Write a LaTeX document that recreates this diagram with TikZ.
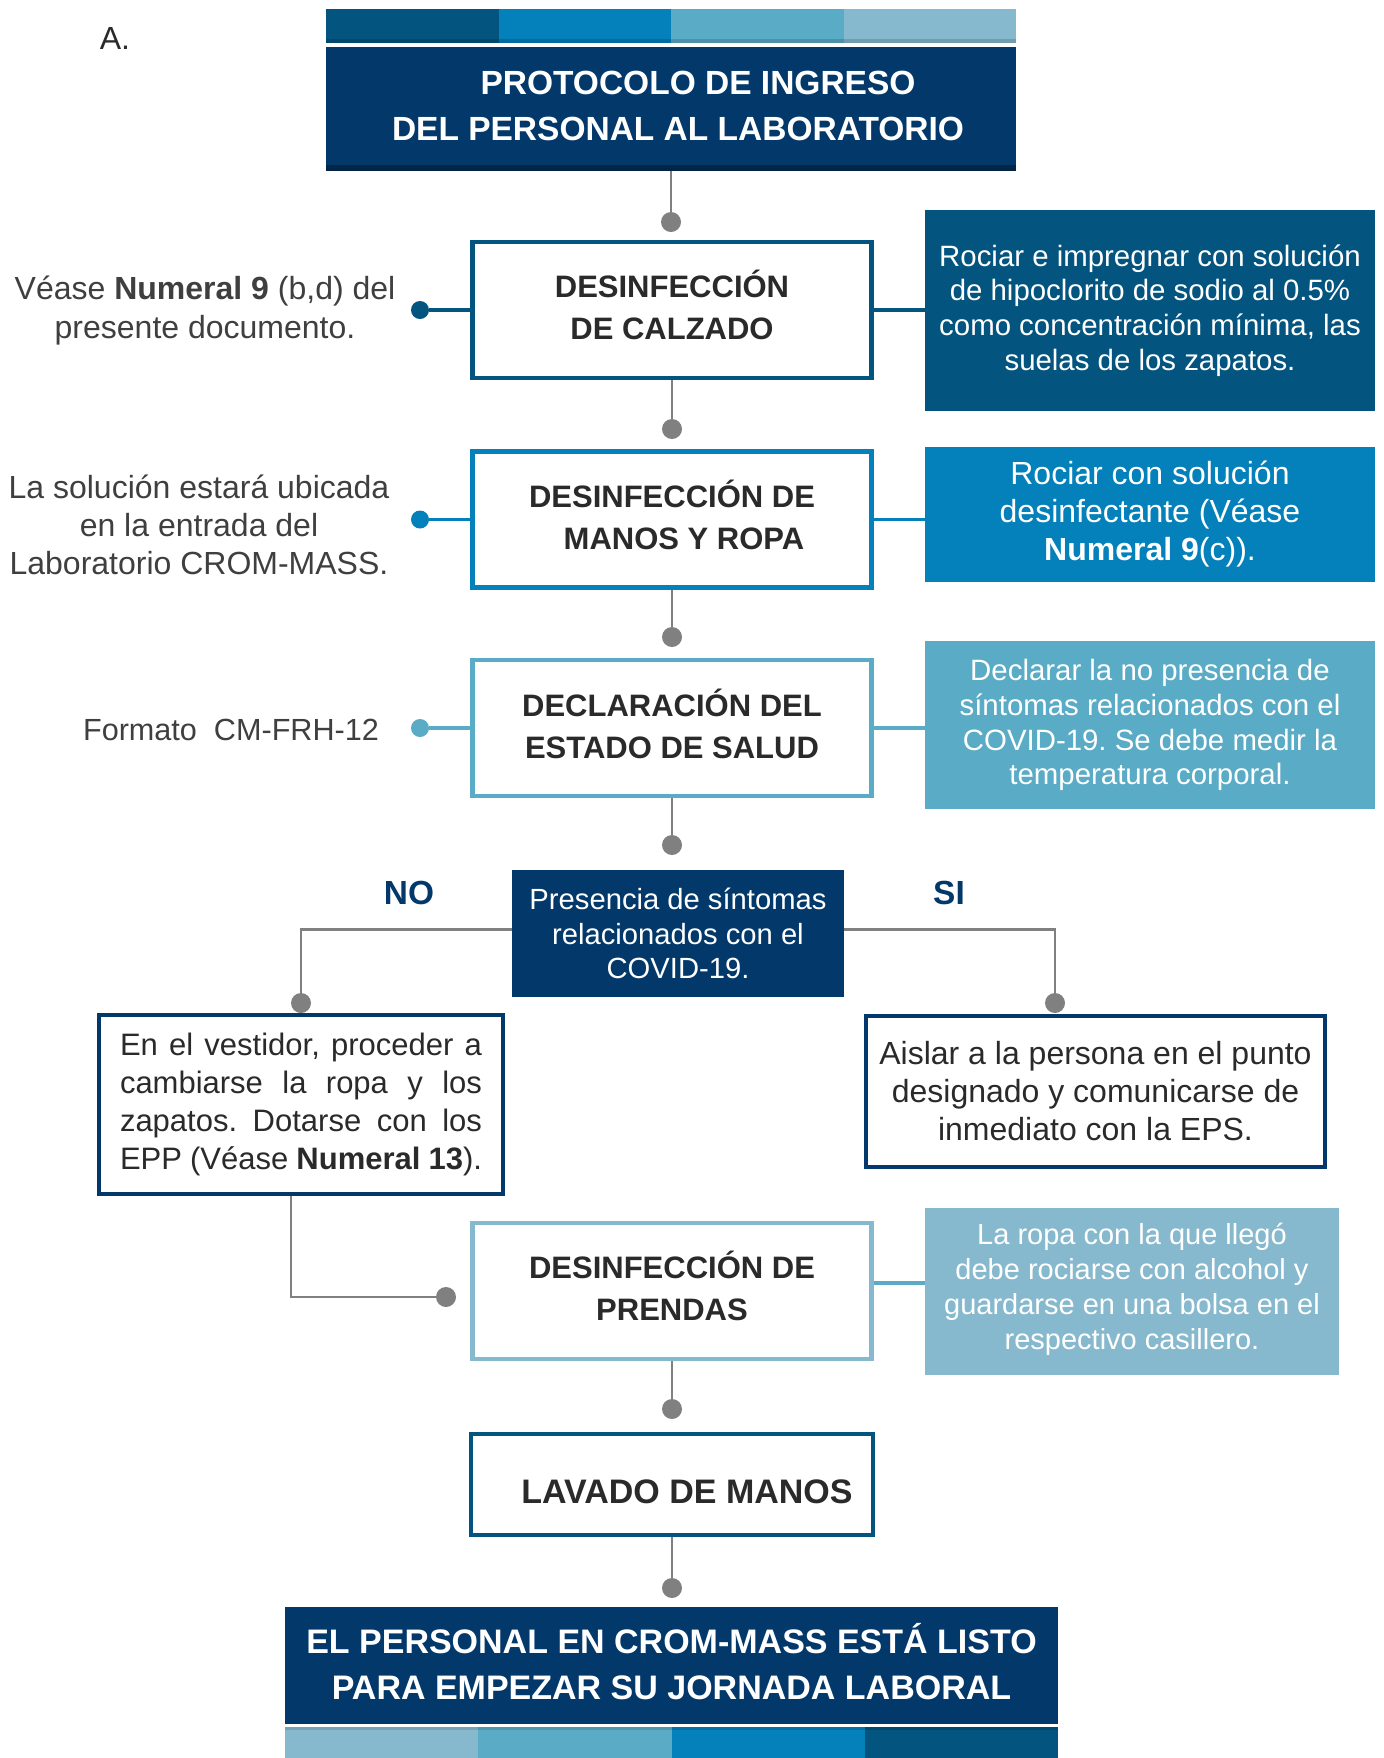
\documentclass[tikz,border=0pt]{standalone}
\usepackage{fontspec}
\setmainfont{Liberation Sans}
\usetikzlibrary{positioning}
\frenchspacing

\definecolor{navy}{HTML}{03396A}
\definecolor{deepteal}{HTML}{03547F}
\definecolor{ocean}{HTML}{0480BA}
\definecolor{sky}{HTML}{5AABC6}
\definecolor{mist}{HTML}{87B9CE}
\definecolor{ink}{HTML}{2A2A2A}
\definecolor{wire}{HTML}{808080}

\tikzset{>=latex}
\newcommand{\fs}[2]{\fontsize{#1}{#2}\selectfont}
\newcommand{\numeral}[1]{\textbf{Numeral #1}}

\tikzset{
  stepbox/.style={draw=#1, line width=2.2pt, fill=white, text=ink, minimum width=199.5pt,
    minimum height=68pt, align=center, inner sep=0pt, font=\bfseries\fs{15.5}{21}},
  notebox/.style={fill=#1, text=white, minimum width=225pt, align=center, inner sep=0pt,
    font=\fs{14.7}{17.4}},
  banner/.style={fill=navy, text=white, align=center, inner sep=0pt},
  refnote/.style={text=ink!90, align=center, inner sep=0pt, font=\fs{16}{19.5}},
  dot/.style={circle, fill=#1, inner sep=0pt, minimum size=10pt},
  conn/.style={draw=wire, line width=1.2pt},
  link/.style={draw=#1, line width=1.6pt},
}

\begin{document}
\begin{tikzpicture}[x=0.5pt, y=-0.5pt]
  \useasboundingbox (0,0) rectangle (1383,1758);
  % top bars
  \foreach \c [count=\i from 0] in {deepteal,ocean,sky,mist}
    \fill[\c] ({326+172.5*\i},9) rectangle ++(172.5,34);
  \fill[black,opacity=.15] (326,39) rectangle (1016,43);
  \node[font=\fs{16}{19}, text=ink] (letter) at (115,38) {A.};

  \node[banner, minimum width=345pt, minimum height=59pt, font=\bfseries\fs{16.75}{23}] (title) at (671,106)
    {\hspace*{27pt}PROTOCOLO DE INGRESO\\\hspace*{7pt}DEL PERSONAL AL LABORATORIO};

  % main steps
  \node[stepbox=deepteal] (calzado) at (672,310) {DESINFECCIÓN\\DE CALZADO\rule[-5pt]{0pt}{1pt}};
  \node[stepbox=ocean] (manos) at (672,519.5) {DESINFECCIÓN DE\\\hspace*{12pt}MANOS Y ROPA\rule[-5pt]{0pt}{1pt}};
  \node[stepbox=sky] (salud) at (672,728) {DECLARACIÓN DEL\\ESTADO DE SALUD\rule[-4pt]{0pt}{1pt}};

  \node[dot=wire] (tip1) at (671,222) {};
  \node[dot=wire] (tip2) at (672,429) {};
  \node[dot=wire] (tip3) at (672,637) {};
  \node[dot=wire] (tip4) at (672,845) {};
  \draw[conn] (title.south) -- (tip1);
  \draw[conn] (calzado.south) -- (tip2);
  \draw[conn] (manos.south) -- (tip3);
  \draw[conn] (salud.south) -- (tip4);
  \fill[navy!65!black] (326,165) rectangle (1016,171);

  % notes on the right
  \node[notebox=deepteal, minimum height=100.5pt] (noteCalzado) at (1150,310.5)
    {Rociar e impregnar con solución\\de hipoclorito de sodio al 0.5\%\\como concentración mínima, las\\suelas de los zapatos.};
  \node[notebox=ocean, minimum height=67.5pt, font=\fs{16}{19}] (noteManos) at (1150,514.5)
    {Rociar con solución\\desinfectante (Véase\\\numeral{9}(c)).};
  \node[notebox=sky, minimum height=84pt] (noteSalud) at (1150,725)
    {Declarar la no presencia de\\síntomas relacionados con el\\COVID-19. Se debe medir la\\temperatura corporal.};
  \draw[link=deepteal] (calzado.east) -- (calzado.east -| noteCalzado.west);
  \draw[link=ocean] (manos.east) -- (manos.east -| noteManos.west);
  \draw[link=sky] (salud.east) -- (salud.east -| noteSalud.west);

  % references on the left
  \node[refnote] (refCalzado) at (205,311) {Véase \numeral{9} (b,d) del\\presente documento.};
  \node[refnote, font=\fs{16}{19}] (refManos) at (199,525)
    {La solución estará ubicada\\en la entrada del\\Laboratorio CROM-MASS.};
  \node[refnote, font=\fs{15.3}{19}] (refSalud) at (231,730) {Formato\ \ CM-FRH-12};
  \node[dot=deepteal, minimum size=9pt] (pinCalzado) at (420,310) {};
  \node[dot=ocean, minimum size=9pt] (pinManos) at (420,519.5) {};
  \node[dot=sky, minimum size=9pt] (pinSalud) at (420,728) {};
  \draw[link=deepteal] (pinCalzado) -- (calzado);
  \draw[link=ocean] (pinManos) -- (manos);
  \draw[link=sky] (pinSalud) -- (salud);

  % decision
  \node[banner, minimum width=166pt, minimum height=63.5pt, font=\fs{14.6}{17.4}] (sintomas) at (678,933.5)
    {Presencia de síntomas\\relacionados con el\\COVID-19.};
  \node[text=navy, font=\bfseries\fs{16.7}{20}] (no) at (409,893) {NO};
  \node[text=navy, font=\bfseries\fs{16.7}{20}] (si) at (949,893) {SI};
  \node[dot=wire] (tipNo) at (301,1003) {};
  \node[dot=wire] (tipSi) at (1055,1003) {};
  \draw[conn] ([yshift=2pt]sintomas.west) -| (tipNo);
  \draw[conn] ([yshift=2pt]sintomas.east) -| (tipSi);

  \node[stepbox=navy, minimum width=202pt, minimum height=89.5pt, font=\fs{15.5}{19}] (vestidor) at (301,1104.5)
    {\makebox[181pt][s]{En el vestidor, proceder a}\\
     \makebox[181pt][s]{cambiarse la ropa y los}\\
     \makebox[181pt][s]{zapatos. Dotarse con los}\\
     \makebox[181pt][s]{EPP (Véase \numeral{13}).}};
  \node[stepbox=navy, minimum width=229.5pt, minimum height=75.5pt, font=\fs{16}{19}] (aislar) at (1095.5,1091.5)
    {Aislar a la persona en el punto\\designado y comunicarse de\\inmediato con la EPS.};

  % garments
  \node[stepbox=mist] (prendas) at (672,1291) {DESINFECCIÓN DE\\PRENDAS\rule[-5pt]{0pt}{1pt}};
  \node[dot=wire] (tipPrendas) at (446,1297) {};
  \draw[conn] ([xshift=-5pt]vestidor.south) |- (tipPrendas);
  \node[notebox=mist, minimum width=207pt, minimum height=83.5pt, font=\fs{14.5}{17.4}] (notePrendas) at (1132,1291.5)
    {La ropa con la que llegó\\debe rociarse con alcohol y\\guardarse en una bolsa en el\\respectivo casillero.\rule[-5pt]{0pt}{1pt}};
  \draw[link=sky] ([yshift=4pt]prendas.east) -- ([yshift=4pt]prendas.east -| notePrendas.west);

  \node[dot=wire] (tip5) at (672,1409) {};
  \draw[conn] (prendas.south) -- (tip5);
  \node[stepbox=deepteal, minimum width=201pt, minimum height=50.5pt, font=\bfseries\fs{17}{21}] (lavado) at (672,1484.5)
    {\hspace*{15pt}\rule{0pt}{19pt}LAVADO DE MANOS};
  \node[dot=wire] (tip6) at (672,1588) {};
  \draw[conn] (lavado.south) -- (tip6);

  \node[banner, minimum width=386.5pt, minimum height=58.5pt, font=\bfseries\fs{17}{23}] (listo) at (671.5,1665.5)
    {EL PERSONAL EN CROM-MASS ESTÁ LISTO\\PARA EMPEZAR SU JORNADA LABORAL\rule[-4pt]{0pt}{1pt}};
  % bottom bars
  \foreach \c [count=\i from 0] in {mist,sky,ocean,deepteal}
    \fill[\c] ({285+193.25*\i},1727) rectangle ++(193.25,31);
  \fill[black,opacity=.12] (285,1727) rectangle (1058,1730);
\end{tikzpicture}
\end{document}
